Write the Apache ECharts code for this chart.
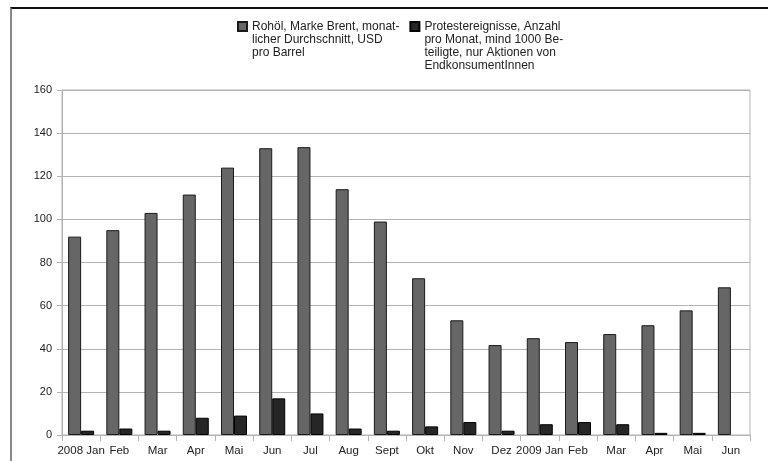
<!DOCTYPE html>
<html>
<head>
<meta charset="utf-8">
<script src="https://cdn.jsdelivr.net/npm/echarts@6/dist/echarts.min.js"></script>
<style>
  html, body { margin: 0; padding: 0; background: #fff; }
  #wrap { position: relative; width: 768px; height: 461px; overflow: hidden; }
  #frame { position: absolute; left: 10px; top: 7px; right: 0; bottom: -4px;
           border-top: 2px solid #111; border-left: 2px solid #888; }
  #chart { position: absolute; left: 0; top: 0; width: 768px; height: 461px; }
</style>
</head>
<body>
<div id="wrap">
  <div id="frame"></div>
  <div id="chart"></div>
</div>
<script>
// Months from January 2008 to June 2009
const months = ['2008 Jan', 'Feb', 'Mar', 'Apr', 'Mai', 'Jun', 'Jul', 'Aug', 'Sept',
  'Okt', 'Nov', 'Dez', '2009 Jan', 'Feb', 'Mar', 'Apr', 'Mai', 'Jun'];

// Brent crude, monthly average, USD per barrel
const brentPrice = [92, 95, 103, 111.5, 124, 133, 133.5, 114, 99, 72.7, 53.2, 41.7,
  44.9, 43.1, 46.8, 50.9, 57.8, 68.5];

// Protest events per month (at least 1000 participants, end-consumer actions)
const protestCount = [2, 3, 2, 8, 9, 17, 10, 3, 2, 4, 6, 2, 5, 6, 5, 1, 1, 0];

const yTicks = { min: 0, max: 160, step: 20 };

const nameBrent = 'Rohöl, Marke Brent, monat-\nlicher Durchschnitt, USD\npro Barrel';
const nameProtest = 'Protestereignisse, Anzahl\npro Monat, mind 1000 Be-\nteiligte, nur Aktionen von\nEndkonsumentInnen';

const LINE_H = 13;
// Legend text is centred on its icon; leading blank lines put the first line level with it
function legendLabel(name) {
  const lines = name.split('\n').length;
  return '\n'.repeat(lines - 1) + name;
}

// A month with no events gets no bar outline
function barItems(values) {
  return values.map(v => v === 0 ? { value: v, itemStyle: { borderWidth: 0 } } : v);
}

const chart = echarts.init(document.getElementById('chart'), null, { renderer: 'canvas' });
const font = '"Liberation Sans", Arial, sans-serif';
const gridColor = '#b3b3b3';

chart.setOption({
  backgroundColor: 'transparent',
  animation: false,
  textStyle: { fontFamily: font },
  legend: {
    left: 237,
    top: -19,
    padding: 0,
    itemGap: 10,
    itemWidth: 9,
    itemHeight: 9,
    icon: 'rect',
    formatter: legendLabel,
    textStyle: { fontSize: 12, lineHeight: LINE_H, color: '#222', fontFamily: font },
    data: [nameBrent, nameProtest]
  },
  grid: {
    left: 62, right: 18, top: 90, bottom: 26,
    show: true, borderColor: gridColor, borderWidth: 1,
    containLabel: false
  },
  xAxis: {
    type: 'category',
    data: months,
    boundaryGap: true,
    axisLine: { lineStyle: { color: gridColor } },
    axisTick: { show: true, length: 6, alignWithLabel: false, lineStyle: { color: gridColor } },
    axisLabel: { interval: 0, fontSize: 11.5, color: '#222', margin: 10 },
    splitLine: { show: false }
  },
  yAxis: {
    type: 'value',
    min: yTicks.min, max: yTicks.max, interval: yTicks.step,
    axisLine: { show: true, lineStyle: { color: gridColor } },
    axisTick: { show: true, length: 5, lineStyle: { color: gridColor } },
    axisLabel: { fontSize: 11, color: '#222', margin: 10 },
    splitLine: { lineStyle: { color: gridColor } }
  },
  series: [
    {
      name: nameBrent,
      type: 'bar',
      data: barItems(brentPrice),
      barWidth: 13,
      barGap: '0%',
      itemStyle: { color: '#666666', borderColor: '#1a1a1a', borderWidth: 1 }
    },
    {
      name: nameProtest,
      type: 'bar',
      data: barItems(protestCount),
      barWidth: 13,
      itemStyle: { color: '#262626', borderColor: '#000', borderWidth: 1 }
    }
  ]
});
</script>
</body>
</html>
